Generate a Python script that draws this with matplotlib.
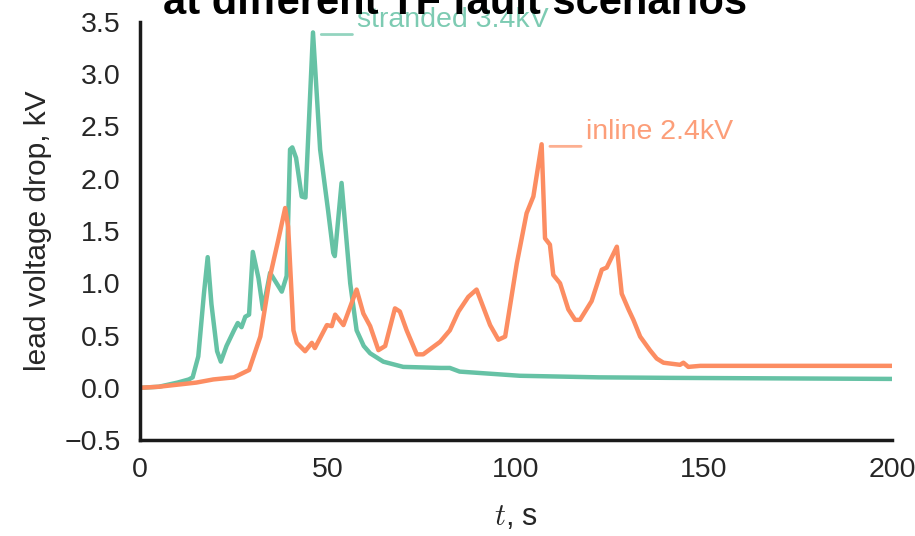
import numpy as np
import matplotlib.pyplot as plt

plt.rcParams['font.family'] = ['Liberation Sans', 'DejaVu Sans']
plt.rcParams['mathtext.fontset'] = 'cm'

# stranded fault scenario (time in s, lead voltage drop in kV)
t_stranded = [0, 5, 10, 13, 14, 15.5, 17, 18, 19, 20.5, 21.5, 23, 25, 26, 27, 28, 29,
              30, 31.5, 32.7, 34.6, 37.7, 39, 39.9, 40.5, 41.5, 43, 44, 46, 47.9,
              50, 51.4, 51.8, 53.6, 55.9, 57.6, 59.5, 61.2, 64.7, 70, 80, 82.4, 85,
              101, 122, 141, 170, 199.5]
v_stranded = [0, 0.01, 0.05, 0.08, 0.1, 0.3, 0.9, 1.25, 0.8, 0.35, 0.25, 0.4, 0.55, 0.62,
              0.58, 0.68, 0.7, 1.3, 1.05, 0.75, 1.1, 0.92, 1.07, 2.28, 2.3, 2.2, 1.83, 1.82,
              3.4, 2.28, 1.7, 1.29, 1.26, 1.96, 1.0, 0.55, 0.4, 0.33, 0.25, 0.2, 0.19, 0.19,
              0.155, 0.115, 0.1, 0.095, 0.09, 0.085]

# inline fault scenario
t_inline = [0, 5, 10, 15, 19.5, 25, 29, 32, 34.6, 36.8, 38.6, 39.4, 40.8, 41.7, 43.9,
            45.7, 46.5, 49.7, 51, 51.9, 54.1, 57.6, 59.4, 61.2, 63.4, 65.2, 67.8, 69.1,
            70.9, 73.6, 75.3, 79.8, 82.4, 84.7, 87.3, 89.5, 93.1, 95.3, 97.1, 100.2,
            102.8, 104.6, 106.8, 107.7, 109, 109.9, 111.7, 113.9, 115.7, 117, 120.1,
            122.8, 124.1, 126.8, 128.1, 129.9, 131.2, 133, 135.6, 137.4, 139.2, 143.6,
            144.5, 145.8, 149, 175, 199.5]
v_inline = [0, 0.01, 0.03, 0.05, 0.08, 0.1, 0.17, 0.49, 1.07, 1.42, 1.72, 1.54, 0.55,
            0.43, 0.35, 0.43, 0.38, 0.6, 0.59, 0.7, 0.6, 0.94, 0.71, 0.59, 0.36, 0.4,
            0.76, 0.73, 0.55, 0.32, 0.32, 0.44, 0.55, 0.73, 0.87, 0.94, 0.6, 0.46, 0.49,
            1.19, 1.67, 1.83, 2.33, 1.43, 1.37, 1.08, 1.0, 0.75, 0.65, 0.65, 0.83, 1.13,
            1.15, 1.35, 0.9, 0.75, 0.65, 0.49, 0.36, 0.28, 0.24, 0.22, 0.24, 0.2, 0.21,
            0.21, 0.21]

green = '#66c2a5'
orange = '#fc8d62'

fig = plt.figure(figsize=(9.15, 5.36), dpi=100)
ax = fig.add_axes([0.153, 0.179, 0.822, 0.78])

ax.plot(t_stranded, v_stranded, color=green, lw=3.2)
ax.plot(t_inline, v_inline, color=orange, lw=3.2)

# peak labels
i_s = int(np.argmax(v_stranded))
i_i = int(np.argmax(v_inline))
for t, v, c, txt in [(t_stranded[i_s], v_stranded[i_s], green, 'stranded 3.4kV'),
                     (t_inline[i_i], v_inline[i_i], orange, 'inline 2.4kV')]:
    ax.annotate('', xy=(t + 2.2, v - 0.02), xytext=(t + 10.5, v - 0.02),
                arrowprops=dict(arrowstyle='-', color=c, alpha=0.7, lw=2,
                                shrinkA=0, shrinkB=0))
    ax.text(t + 11.8, v + 0.12, txt, color=c, alpha=0.85, fontsize=20.5,
            va='center', ha='left')

ax.set_xlim(0, 200)
ax.set_ylim(-0.5, 3.5)
ax.set_xticks([0, 50, 100, 150, 200])
ax.set_yticks(np.arange(-0.5, 3.51, 0.5))
ax.tick_params(length=0, labelsize=20.5, colors='#262626')
ax.tick_params(axis='y', pad=14)
ax.tick_params(axis='x', pad=12)
for s in ['top', 'right']:
    ax.spines[s].set_visible(False)
for s in ['left', 'bottom']:
    ax.spines[s].set_linewidth(2.5)
    ax.spines[s].set_color('#1a1a1a')

ax.set_ylabel('lead voltage drop, kV', fontsize=21.5, labelpad=9, color='#262626')
ax.set_xlabel('$t$, s', fontsize=22, labelpad=14, color='#262626')

fig.text(0.497, 0.974, 'at different TF fault scenarios', fontsize=30,
         fontweight='bold', ha='center', va='baseline')

fig.savefig('out.png', dpi=100)
